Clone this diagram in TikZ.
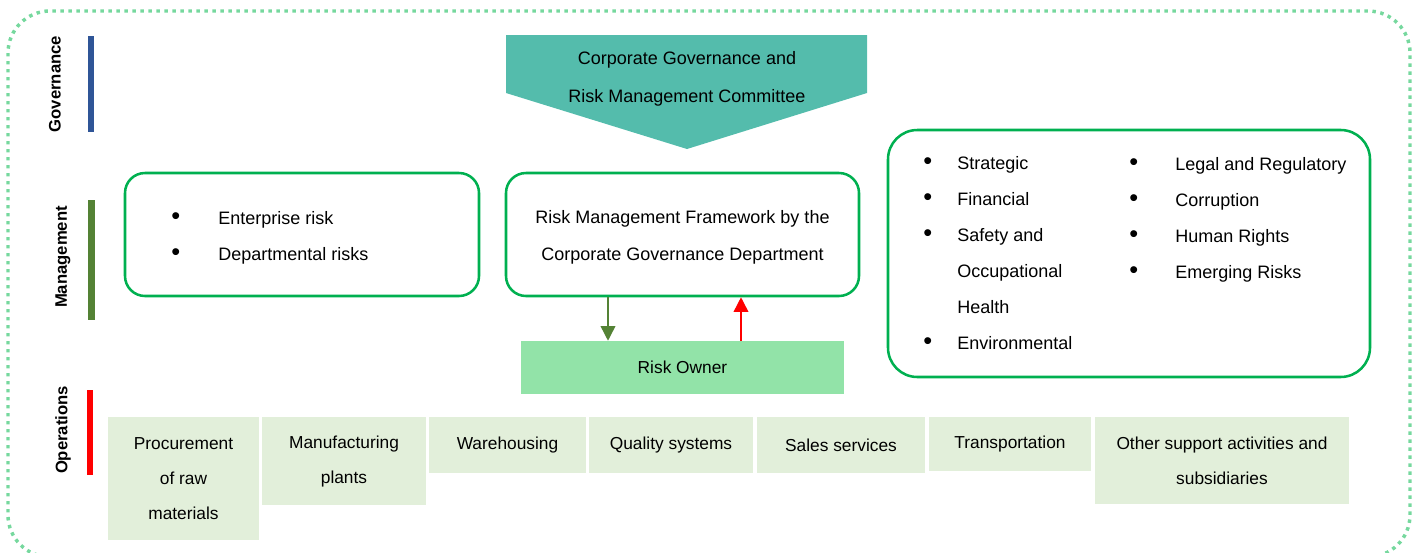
\documentclass[tikz,border=0pt]{standalone}
\usepackage{fontspec}
\setmainfont{Liberation Sans}
\usetikzlibrary{arrows.meta,positioning}

\definecolor{framegreen}{RGB}{118,216,158}
\definecolor{govblue}{RGB}{47,85,151}
\definecolor{mgmtgreen}{RGB}{84,130,53}
\definecolor{opsred}{RGB}{255,0,0}
\definecolor{committeeteal}{RGB}{84,188,172}
\definecolor{boxgreen}{RGB}{0,176,80}
\definecolor{ownerfill}{RGB}{146,227,168}
\definecolor{opfill}{RGB}{226,239,218}

\newcommand{\riskdot}{{\fontsize{19}{19}\selectfont\textbullet}}

\begin{document}
\begin{tikzpicture}[x=0.75pt,y=-0.75pt,
    lanelabel/.style={rotate=90,font=\fontsize{12.5}{15}\selectfont\bfseries},
    riskbox/.style={draw=boxgreen,line width=1.9pt,rounded corners=15pt,inner sep=0pt},
    boxtext/.style={align=center,inner sep=0pt,font=\fontsize{13.5}{27.5}\selectfont},
    listtext/.style={inner sep=0pt,anchor=base west,font=\fontsize{13.5}{27}\selectfont},
    opbox/.style={fill=opfill,anchor=north,align=center,inner sep=0pt,font=\fontsize{13}{26}\selectfont},
    flow/.style={line width=1.1pt,-{Triangle[width=11pt,length=11pt]}}]
    \useasboundingbox (0,0) rectangle (1418,553);

    % outer frame
    \draw[framegreen,line width=2.6pt,dash pattern=on 2.6pt off 3.4pt,rounded corners=31.5pt]
      (8,11) rectangle (1410,557);

    % lanes
    \fill[govblue] (88,36) rectangle (94,132);
    \fill[mgmtgreen] (88,200) rectangle (95,320);
    \fill[opsred] (87,390) rectangle (93,475);
    \node[lanelabel] (govlabel) at (55,84) {Governance};
    \node[lanelabel] (mgmtlabel) at (63,257) {Management};
    \node[lanelabel] (opslabel) at (63,430) {Operations};

    % governance
    \fill[committeeteal] (506,35) -- (867,35) -- (867,93) -- (687,149) -- (506,93) -- cycle;
    \node[boxtext,font=\fontsize{13.5}{28.5}\selectfont] (committee) at (687,79)
      {Corporate Governance and\\Risk Management Committee};

    % management
    \node[riskbox,minimum width=265.5pt,minimum height=92.25pt] (levels) at (302,234.5) {};
    \node[listtext] (levellist) at (171,224) {\begin{tabular}[t]{@{}p{35.25pt}@{}l@{}}
      \riskdot & Enterprise risk\\
      \riskdot & Departmental risks
    \end{tabular}};

    \node[riskbox,minimum width=264.75pt,minimum height=92.25pt] (framework) at (682.5,234.5) {};
    \node[boxtext] (frametext) at (682.5,237.5)
      {Risk Management Framework by the\\Corporate Governance Department};

    \node[riskbox,rounded corners=22pt,minimum width=361.5pt,minimum height=185.25pt] (types) at (1129,253.5) {};
    \node[listtext] (typelist1) at (923,169) {\begin{tabular}[t]{@{}p{25.5pt}@{}l@{}}
      \riskdot & Strategic\\
      \riskdot & Financial\\
      \riskdot & Safety and\\
       & Occupational\\
       & Health\\
      \riskdot & Environmental
    \end{tabular}};
    \node[listtext] (typelist2) at (1129,170) {\begin{tabular}[t]{@{}p{34.5pt}@{}l@{}}
      \riskdot & Legal and Regulatory\\
      \riskdot & Corruption\\
      \riskdot & Human Rights\\
      \riskdot & Emerging Risks
    \end{tabular}};

    \node[fill=ownerfill,inner sep=0pt,minimum width=242.25pt,minimum height=39.75pt,
      font=\fontsize{13}{15}\selectfont] (owner) at (682.5,367.5) {\raisebox{-1.5pt}{Risk Owner}};

    \coordinate (downx) at (608,0);
    \coordinate (upx) at (741,0);
    \draw[flow,mgmtgreen] (framework.south -| downx) -- (owner.north -| downx);
    \draw[flow,opsred] (owner.north -| upx) -- (framework.south -| upx);

    % operations
    \node[opbox,minimum width=113.25pt,minimum height=92.25pt] (procure) at (183.5,417) {Procurement\\of raw\\materials};
    \node[opbox,minimum width=123pt,minimum height=66pt] (plants) at (344,417) {Manufacturing\\plants};
    \node[opbox,minimum width=117.75pt,minimum height=42pt] (warehouse) at (507.5,417) {Warehousing};
    \node[opbox,minimum width=123pt,minimum height=42pt] (quality) at (671,417) {Quality systems};
    \node[opbox,minimum width=126pt,minimum height=42pt] (sales) at (841,417) {Sales services};
    \node[opbox,minimum width=121.5pt,minimum height=40.5pt] (transport) at (1010,417) {Transportation};
    \node[opbox,minimum width=190.5pt,minimum height=65.25pt] (support) at (1222,417) {Other support activities and\\subsidiaries};
\end{tikzpicture}
\end{document}
